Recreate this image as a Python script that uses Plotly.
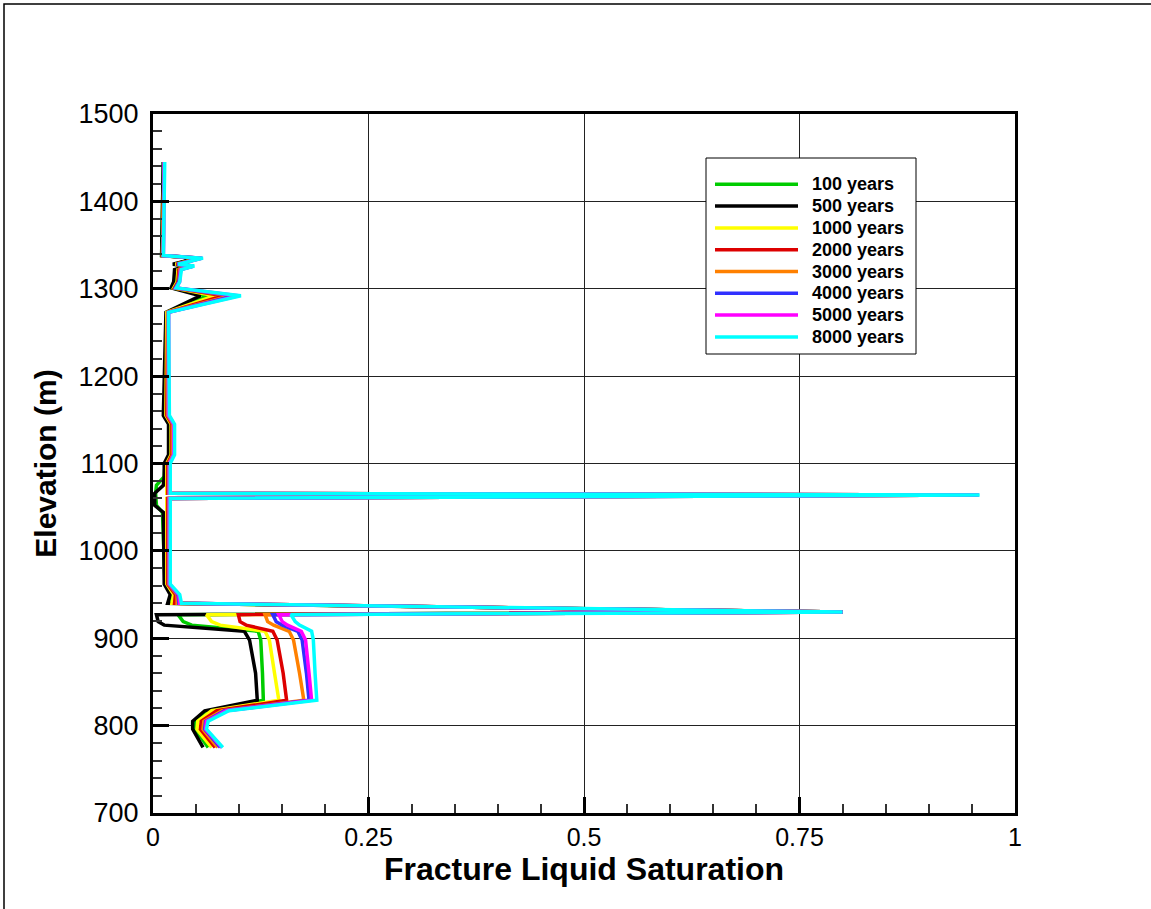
import plotly.graph_objects as go

# ---------------- data ----------------
elevation = [1445, 1338, 1335, 1328, 1326, 1322, 1308, 1301, 1292, 1273,
             1155, 1145, 1110, 1100, 1085, 1075, 1066, 1064, 1060, 1052,
             1044, 962, 950, 940, 930, 927, 919, 915, 908, 898,
             860, 829, 817, 805, 796, 775]

sat_100 = [0.012, 0.010, 0.052, 0.025, 0.042, 0.027, 0.026, 0.022, 0.064, 0.016,
           0.013, 0.019, 0.019, 0.014, 0.013, 0.004, 0.003, 0.003, 0.003, 0.004,
           0.011, 0.014, 0.022, 0.019, 0.80, 0.029, 0.035, 0.045, 0.122, 0.125,
           0.127, 0.128, 0.064, 0.049, 0.049, 0.064]

sat_500 = [0.012, 0.010, 0.050, 0.023, 0.040, 0.025, 0.024, 0.021, 0.055, 0.015,
           0.012, 0.018, 0.018, 0.013, 0.013, 0.012, 0.002, 0.002, 0.002, 0.002,
           0.012, 0.013, 0.020, 0.017, 0.80, 0.004, 0.006, 0.013, 0.106, 0.112,
           0.119, 0.121, 0.060, 0.046, 0.046, 0.058]

sat_1000 = [0.013, 0.011, 0.054, 0.026, 0.044, 0.029, 0.028, 0.024, 0.072, 0.016,
            0.015, 0.021, 0.021, 0.016, 0.016, 0.016, 0.016, 0.955, 0.016, 0.016,
            0.016, 0.016, 0.024, 0.022, 0.80, 0.062, 0.068, 0.078, 0.130, 0.135,
            0.141, 0.146, 0.068, 0.052, 0.051, 0.068]

sat_2000 = [0.013, 0.011, 0.055, 0.027, 0.045, 0.030, 0.029, 0.025, 0.082, 0.017,
            0.016, 0.022, 0.022, 0.017, 0.017, 0.017, 0.017, 0.956, 0.017, 0.017,
            0.017, 0.017, 0.026, 0.025, 0.80, 0.099, 0.101, 0.108, 0.139, 0.144,
            0.151, 0.155, 0.074, 0.056, 0.055, 0.072]

sat_3000 = [0.013, 0.011, 0.056, 0.028, 0.046, 0.031, 0.030, 0.026, 0.090, 0.017,
            0.017, 0.023, 0.023, 0.018, 0.018, 0.018, 0.018, 0.957, 0.018, 0.018,
            0.018, 0.018, 0.028, 0.028, 0.80, 0.130, 0.133, 0.140, 0.158, 0.163,
            0.170, 0.175, 0.080, 0.059, 0.058, 0.075]

sat_4000 = [0.013, 0.012, 0.057, 0.028, 0.047, 0.032, 0.030, 0.026, 0.095, 0.018,
            0.018, 0.024, 0.024, 0.019, 0.019, 0.019, 0.019, 0.958, 0.019, 0.019,
            0.019, 0.019, 0.029, 0.030, 0.80, 0.139, 0.143, 0.150, 0.168, 0.173,
            0.178, 0.181, 0.083, 0.061, 0.060, 0.078]

sat_5000 = [0.013, 0.012, 0.057, 0.029, 0.047, 0.032, 0.031, 0.027, 0.099, 0.018,
            0.018, 0.024, 0.024, 0.019, 0.019, 0.019, 0.019, 0.958, 0.019, 0.019,
            0.019, 0.019, 0.030, 0.031, 0.80, 0.146, 0.150, 0.156, 0.172, 0.177,
            0.181, 0.184, 0.085, 0.062, 0.061, 0.080]

sat_8000 = [0.0136, 0.012, 0.058, 0.029, 0.048, 0.033, 0.031, 0.027, 0.102, 0.018,
            0.019, 0.025, 0.025, 0.020, 0.020, 0.020, 0.020, 0.959, 0.020, 0.020,
            0.020, 0.020, 0.031, 0.033, 0.80, 0.160, 0.165, 0.170, 0.184, 0.186,
            0.188, 0.190, 0.088, 0.064, 0.062, 0.081]

series_names = ["100 years", "500 years", "1000 years", "2000 years",
                "3000 years", "4000 years", "5000 years", "8000 years"]
series_values = [sat_100, sat_500, sat_1000, sat_2000,
                 sat_3000, sat_4000, sat_5000, sat_8000]

x_tickvals = [0, 0.25, 0.5, 0.75, 1]
x_ticktext = ["0", "0.25", "0.5", "0.75", "1"]
y_tickvals = [700, 800, 900, 1000, 1100, 1200, 1300, 1400, 1500]

# ---------------- styles ----------------
colors = ["#00CC00", "#000000", "#FFFF00", "#DD0000",
          "#FF8000", "#3030FF", "#FF00FF", "#00FFFF"]

W, H = 1151, 909
L, R, T, B = 153, 136, 114, 96
PW, PH = W - L - R, H - T - B

def px2x(px):
    return (px - L) / PW

def py2y(py):
    return (H - B - py) / PH

fig = go.Figure()
for name, vals, col in zip(series_names, series_values, colors):
    fig.add_trace(go.Scatter(x=vals, y=elevation, mode="lines", name=name,
                             line=dict(color=col, width=3.5),
                             showlegend=False))

sans = "Liberation Sans, Arial, sans-serif"

fig.update_layout(
    width=W, height=H,
    margin=dict(l=L, r=R, t=T, b=B),
    paper_bgcolor="white", plot_bgcolor="white",
    showlegend=False,
    xaxis=dict(range=[0, 1], tickvals=x_tickvals, ticktext=x_ticktext,
               ticks="inside", ticklen=16, tickwidth=3, tickcolor="black",
               showline=True, linewidth=3, linecolor="black", mirror=True,
               showgrid=True, gridcolor="#222222", gridwidth=1, zeroline=False,
               tickfont=dict(family=sans, size=25, color="black"),
               minor=dict(dtick=0.05, ticks="inside", ticklen=9, tickwidth=1.5,
                          tickcolor="#333333", showgrid=False),
               title=dict(text="Fracture Liquid Saturation", standoff=0,
                          font=dict(family=sans, size=32, color="black",
                                    weight="bold"))),
    yaxis=dict(range=[700, 1500], tickvals=y_tickvals,
               ticks="inside", ticklen=16, tickwidth=3, tickcolor="black",
               showline=True, linewidth=3, linecolor="black", mirror=True,
               showgrid=True, gridcolor="#222222", gridwidth=1, zeroline=False,
               tickfont=dict(family=sans, size=27, color="black"),
               ticklabelstandoff=6,
               minor=dict(dtick=20, ticks="inside", ticklen=9, tickwidth=1.5,
                          tickcolor="#333333", showgrid=False),
               title=dict(text="Elevation (m)", standoff=14,
                          font=dict(family=sans, size=30, color="black",
                                    weight="bold"))),
)

# outer page frame
fig.add_shape(type="rect", xref="paper", yref="paper",
              x0=px2x(4), x1=px2x(1160), y0=py2y(920), y1=py2y(4),
              line=dict(color="black", width=1.5), fillcolor="rgba(0,0,0,0)",
              layer="above")

# legend box (drawn manually to match long sample lines)
fig.add_shape(type="rect", xref="paper", yref="paper",
              x0=px2x(706), x1=px2x(916), y0=py2y(354), y1=py2y(158),
              line=dict(color="black", width=1), fillcolor="white",
              layer="above")
for i, (name, col) in enumerate(zip(series_names, colors)):
    yy = py2y(184.3 + i * 21.8)
    fig.add_shape(type="line", xref="paper", yref="paper",
                  x0=px2x(715), x1=px2x(798), y0=yy, y1=yy,
                  line=dict(color=col, width=3.5), layer="above")
    fig.add_annotation(xref="paper", yref="paper", x=px2x(810), y=yy,
                       text=name, showarrow=False, xanchor="left",
                       yanchor="middle",
                       font=dict(family=sans, size=18, color="black",
                                 weight="bold"))

fig.write_html("out.html")
